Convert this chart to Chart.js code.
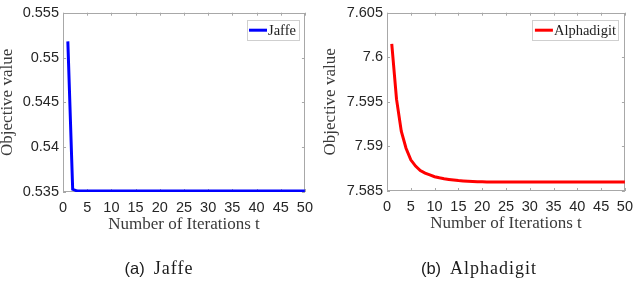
<!DOCTYPE html>
<html>
<head>
<meta charset="utf-8">
<script src="https://cdn.jsdelivr.net/npm/chart.js@4.4.0/dist/chart.umd.min.js"></script>
<style>
  body { margin: 0; background: #fff; width: 640px; height: 281px; position: relative; overflow: hidden; }
  .panel { position: absolute; top: 0; width: 320px; height: 281px; }
  .cap { position: absolute; top: 258px; width: 200px; text-align: center; color: #1a1a1a; white-space: nowrap; }
  .cap .tag { font: 16.5px "Liberation Sans", sans-serif; }
  .cap .name { font: 18px "Liberation Serif", serif; letter-spacing: 1px; margin-left: 9px; }
</style>
</head>
<body>
<div class="panel" style="left:0"><canvas id="jaffeChart" width="320" height="281"></canvas></div>
<div class="panel" style="left:320px"><canvas id="alphaChart" width="320" height="281"></canvas></div>
<div class="cap" style="left:59px"><span class="tag">(a)</span><span class="name">Jaffe</span></div>
<div class="cap" style="left:379px"><span class="tag">(b)</span><span class="name">Alphadigit</span></div>

<script>
// dados
const iterations = [1, 2, 3, 4, 5, 6, 7, 8, 9, 10, 11, 12, 13, 14, 15, 16, 17, 18, 19, 20,
  21, 22, 23, 24, 25, 26, 27, 28, 29, 30, 31, 32, 33, 34, 35, 36, 37, 38, 39, 40,
  41, 42, 43, 44, 45, 46, 47, 48, 49, 50];

const jaffeValues = [0.5518, 0.5353, 0.5351, 0.5351, 0.5351, 0.5351, 0.5351, 0.5351, 0.5351, 0.5351,
  0.5351, 0.5351, 0.5351, 0.5351, 0.5351, 0.5351, 0.5351, 0.5351, 0.5351, 0.5351,
  0.5351, 0.5351, 0.5351, 0.5351, 0.5351, 0.5351, 0.5351, 0.5351, 0.5351, 0.5351,
  0.5351, 0.5351, 0.5351, 0.5351, 0.5351, 0.5351, 0.5351, 0.5351, 0.5351, 0.5351,
  0.5351, 0.5351, 0.5351, 0.5351, 0.5351, 0.5351, 0.5351, 0.5351, 0.5351, 0.5351];

const alphadigitValues = [7.6015, 7.5953, 7.5917, 7.5898, 7.5885, 7.5878, 7.5873, 7.5870, 7.5868, 7.5866,
  7.58648, 7.58638, 7.5863, 7.58623, 7.58617, 7.58613, 7.58609, 7.58606, 7.58604, 7.58603,
  7.58602, 7.58601, 7.5860, 7.5860, 7.5860, 7.5860, 7.5860, 7.5860, 7.5860, 7.5860,
  7.5860, 7.5860, 7.5860, 7.5860, 7.5860, 7.5860, 7.5860, 7.5860, 7.5860, 7.5860,
  7.5860, 7.5860, 7.5860, 7.5860, 7.5860, 7.5860, 7.5860, 7.5860, 7.5860, 7.5860];

const xTicks = [0, 5, 10, 15, 20, 25, 30, 35, 40, 45, 50];
const jaffeTicks = [0.535, 0.54, 0.545, 0.55, 0.555];
const alphaTicks = [7.585, 7.59, 7.595, 7.6, 7.605];

const tickFont = { family: 'Liberation Sans', size: 14.5 };
const titleFont = { family: 'Liberation Serif', size: 17, lineHeight: 1 };
const axisColor = '#a8a8a8';

// moldura, ticks internos e legenda (estilo matlab)
const framePlugin = {
  id: 'frame',
  beforeDatasetsDraw(chart) {
    const { ctx, chartArea: a, scales: { x, y } } = chart;
    ctx.save();
    ctx.strokeStyle = axisColor;
    ctx.lineWidth = 1;
    ctx.strokeRect(Math.round(a.left) + 0.5, Math.round(a.top) + 0.5,
      Math.round(a.width) - 1, Math.round(a.height) - 1);
    ctx.beginPath();
    x.ticks.forEach(t => {
      const px = Math.round(x.getPixelForValue(t.value)) + 0.5;
      ctx.moveTo(px, a.bottom); ctx.lineTo(px, a.bottom - 3);
      ctx.moveTo(px, a.top); ctx.lineTo(px, a.top + 3);
    });
    y.ticks.forEach(t => {
      const py = Math.round(y.getPixelForValue(t.value)) + 0.5;
      ctx.moveTo(a.left, py); ctx.lineTo(a.left + 3, py);
      ctx.moveTo(a.right, py); ctx.lineTo(a.right - 3, py);
    });
    ctx.stroke();
    ctx.restore();
  },
  afterDraw(chart) {
    const { ctx, chartArea: a } = chart;
    const ds = chart.data.datasets[0];
    ctx.save();
    ctx.font = '14.5px "Liberation Serif"';
    const tw = ctx.measureText(ds.label).width;
    const w = 2.5 + 18 + 1 + tw + 2.5;
    const h = 20;
    const right = a.right - 6.5;
    const top = a.top + 7;
    const left = right - w;
    ctx.fillStyle = '#fff';
    ctx.fillRect(left, top, w, h);
    ctx.strokeStyle = '#cfcfcf';
    ctx.lineWidth = 1;
    ctx.strokeRect(Math.round(left) + 0.5, Math.round(top) + 0.5, Math.round(w), h);
    ctx.strokeStyle = ds.borderColor;
    ctx.lineWidth = 3;
    ctx.beginPath();
    ctx.moveTo(left + 2.5, top + h / 2 + 0.5);
    ctx.lineTo(left + 20.5, top + h / 2 + 0.5);
    ctx.stroke();
    ctx.fillStyle = '#222';
    ctx.textBaseline = 'middle';
    ctx.fillText(ds.label, left + 21.5, top + h / 2 + 1);
    ctx.restore();
  }
};

function makeChart(id, label, values, color, yTicks, yWidth, pad) {
  const ctx = document.getElementById(id).getContext('2d');
  return new Chart(ctx, {
    type: 'line',
    data: {
      datasets: [{
        label: label,
        data: iterations.map((t, i) => ({ x: t, y: values[i] })),
        borderColor: color,
        backgroundColor: color,
        borderWidth: 3,
        pointRadius: 0,
        tension: 0,
        fill: false
      }]
    },
    options: {
      responsive: false,
      animation: false,
      devicePixelRatio: 1,
      layout: { padding: pad },
      plugins: { legend: { display: false }, tooltip: { enabled: false } },
      scales: {
        x: {
          type: 'linear',
          min: 0,
          max: 50,
          afterBuildTicks: s => { s.ticks = xTicks.map(v => ({ value: v })); },
          afterFit: s => { s.height = 43; },
          grid: { display: false, drawTicks: false },
          border: { display: false },
          ticks: { font: tickFont, color: '#262626', padding: 7, maxRotation: 0, autoSkip: false },
          title: { display: true, text: 'Number of Iterations t', font: titleFont, color: '#3a3a3a', padding: { top: 0, bottom: 1.5 } }
        },
        y: {
          type: 'linear',
          min: yTicks[0],
          max: yTicks[yTicks.length - 1],
          afterBuildTicks: s => { s.ticks = yTicks.map(v => ({ value: v })); },
          afterFit: s => { s.width = yWidth; },
          grid: { display: false, drawTicks: false },
          border: { display: false },
          ticks: { font: tickFont, color: '#262626', padding: 4, callback: v => String(v) },
          title: { display: true, text: 'Objective value', font: titleFont, color: '#3a3a3a', padding: { top: pad.titleTop, bottom: 0 } }
        }
      }
    },
    plugins: [framePlugin]
  });
}

makeChart('jaffeChart', 'Jaffe', jaffeValues, '#0000ff', jaffeTicks, 63,
  { left: 0, right: 13, top: 7, bottom: 46, titleTop: -1 });
makeChart('alphaChart', 'Alphadigit', alphadigitValues, '#ff0000', alphaTicks, 67,
  { left: 0, right: 9, top: 7, bottom: 47, titleTop: 2.5 });
</script>
</body>
</html>
